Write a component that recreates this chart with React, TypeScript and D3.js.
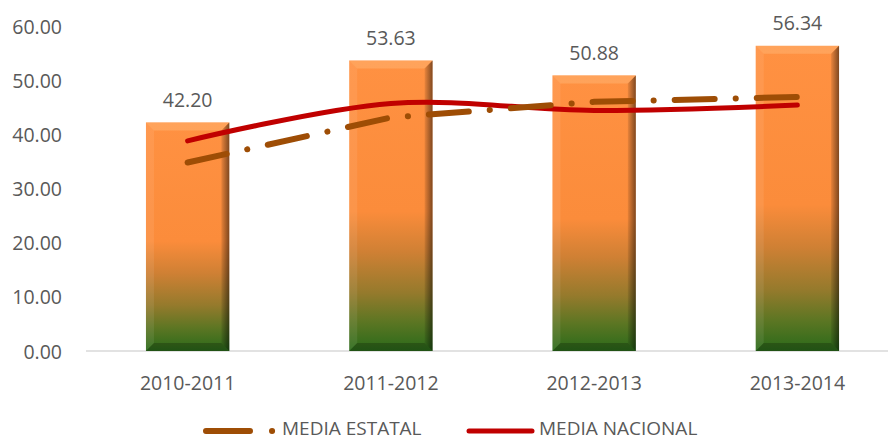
import React from "react";
import * as d3 from "d3";

const categories = ["2010-2011", "2011-2012", "2012-2013", "2013-2014"];
const barValues = [42.2, 53.63, 50.88, 56.34];
const mediaEstatal = [34.8, 43.1, 46.0, 46.9];
const mediaNacional = [38.8, 45.7, 44.4, 45.4];
const yTicks = [0, 10, 20, 30, 40, 50, 60];

const W = 888;
const H = 441;
const FONT = "'Open Sans', sans-serif";
const TEXT = "#595959";

export default function App() {
  const x = d3
    .scaleBand<string>()
    .domain(categories)
    .range([86, 899])
    .paddingInner(0.59)
    .paddingOuter(0.295);
  const y = d3.scaleLinear().domain([0, 60]).range([351, 26]);
  const cx = (c: string) => (x(c) as number) + x.bandwidth() / 2;

  const lineLinear = d3
    .line<number>()
    .x((_, i) => cx(categories[i]))
    .y((d) => y(d));
  const lineSmooth = d3
    .line<number>()
    .x((_, i) => cx(categories[i]))
    .y((d) => y(d))
    .curve(d3.curveCardinal.tension(0));

  const bev = 8;

  return (
    <svg
      width={W}
      height={H}
      style={{ position: "absolute", left: 0, top: 0, background: "#fff" }}
      fontFamily={FONT}
    >
      <defs>
        <linearGradient id="barGrad" x1="0" y1="0" x2="0" y2="1">
          <stop offset="0" stopColor="#FF9142" />
          <stop offset="0.52" stopColor="#FB8C3B" />
          <stop offset="0.66" stopColor="#CF8034" />
          <stop offset="0.8" stopColor="#957A2C" />
          <stop offset="0.9" stopColor="#5C7623" />
          <stop offset="1" stopColor="#2A6A1A" />
        </linearGradient>
        <linearGradient id="rightGrad" x1="0" y1="0" x2="1" y2="0">
          <stop offset="0" stopColor="#000" stopOpacity="0.08" />
          <stop offset="1" stopColor="#000" stopOpacity="0.5" />
        </linearGradient>
      </defs>

      {/* axis baseline */}
      <line x1={86} x2={W} y1={y(0)} y2={y(0)} stroke="#D9D9D9" strokeWidth={1.5} />

      {/* y tick labels */}
      {yTicks.map((t) => (
        <text
          key={t}
          x={62}
          y={y(t)}
          textAnchor="end"
          dominantBaseline="central"
          fontSize={19.5}
          fill={TEXT}
        >
          {t.toFixed(2)}
        </text>
      ))}

      {/* bars */}
      {categories.map((c, i) => {
        const bx = x(c) as number;
        const bw = x.bandwidth();
        const by = y(barValues[i]);
        const bh = y(0) - by;
        const r = bx + bw;
        const b = by + bh;
        return (
          <g key={c}>
            <rect x={bx} y={by} width={bw} height={bh} fill="url(#barGrad)" />
            <polygon
              points={`${bx},${by} ${r},${by} ${r - bev},${by + bev} ${bx + bev},${by + bev}`}
              fill="#FFC58A"
              opacity={0.35}
            />
            <polygon
              points={`${bx},${by} ${bx + bev},${by + bev} ${bx + bev},${b - bev} ${bx},${b}`}
              fill="#fff"
              opacity={0.08}
            />
            <polygon
              points={`${r},${by} ${r},${b} ${r - bev},${b - bev} ${r - bev},${by + bev}`}
              fill="url(#rightGrad)"
            />
            <polygon
              points={`${bx},${b} ${bx + bev},${b - bev} ${r - bev},${b - bev} ${r},${b}`}
              fill="#000"
              opacity={0.22}
            />
            <text
              x={cx(c)}
              y={by - 23}
              textAnchor="middle"
              dominantBaseline="central"
              fontSize={19.5}
              fill={TEXT}
            >
              {barValues[i].toFixed(2)}
            </text>
            <text
              x={cx(c)}
              y={382}
              textAnchor="middle"
              dominantBaseline="central"
              fontSize={19.5}
              fill={TEXT}
            >
              {c}
            </text>
          </g>
        );
      })}

      {/* media nacional */}
      <path
        d={lineSmooth(mediaNacional) || ""}
        fill="none"
        stroke="#C00000"
        strokeWidth={5}
        strokeLinecap="round"
      />
      {/* media estatal */}
      <path
        d={lineLinear(mediaEstatal) || ""}
        fill="none"
        stroke="#9E4D05"
        strokeWidth={6}
        strokeLinecap="round"
        strokeDasharray="40 21 0.1 21"
      />

      {/* legend */}
      <path
        d="M206,431 L276,431"
        stroke="#9E4D05"
        strokeWidth={6}
        strokeLinecap="round"
        strokeDasharray="44 22 0.1 40"
        fill="none"
      />
      <text x={282} y={428} dominantBaseline="central" fontSize={19} fill={TEXT}>
        MEDIA ESTATAL
      </text>
      <line
        x1={469}
        x2={532}
        y1={431}
        y2={431}
        stroke="#C00000"
        strokeWidth={5}
        strokeLinecap="round"
      />
      <text x={539} y={428} dominantBaseline="central" fontSize={19} fill={TEXT}>
        MEDIA NACIONAL
      </text>
    </svg>
  );
}
